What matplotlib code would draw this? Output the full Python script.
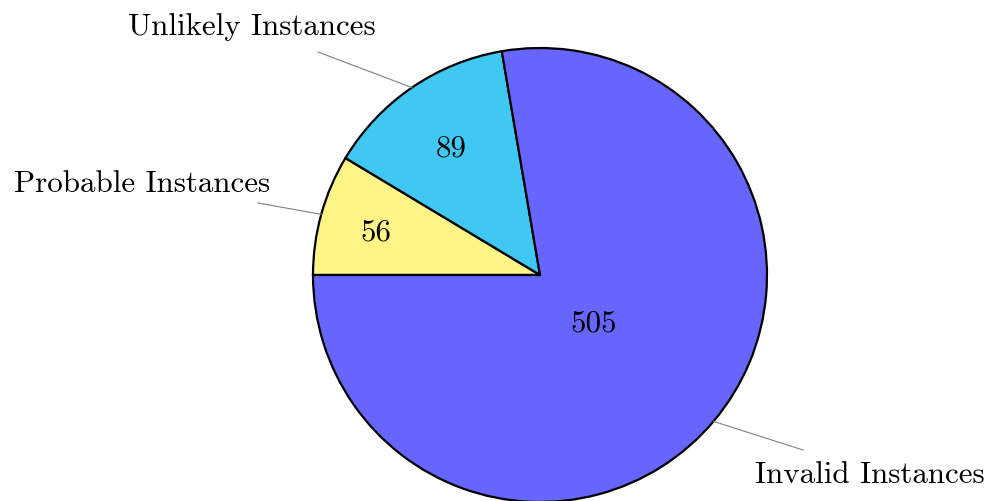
import numpy as np
import matplotlib.pyplot as plt

plt.rcParams['font.family'] = ['cmr10', 'DejaVu Serif']
plt.rcParams['mathtext.fontset'] = 'cm'
plt.rcParams['axes.formatter.use_mathtext'] = True

labels = ['Probable Instances', 'Unlikely Instances', 'Invalid Instances']
counts = [56, 89, 505]
colors = ['#FFF587', '#40C8F2', '#6666FF']

# number placement (fraction of radius) for each slice
num_r = [0.75, 0.69, 0.31]

fig = plt.figure(figsize=(9.88, 5.02), dpi=100)
ax = fig.add_axes([0, 0, 1, 1])

cx, cy, R = 540, 226, 227
wedges, _ = ax.pie(counts, colors=colors, startangle=180, counterclock=False,
                   radius=R, center=(cx, cy), frame=True,
                   wedgeprops=dict(edgecolor='black', linewidth=1.6))
ax.set_xlim(0, 988)
ax.set_ylim(0, 502)
ax.set_aspect('equal')
ax.axis('off')

for w, n, fr in zip(wedges, counts, num_r):
    mid = np.deg2rad((w.theta1 + w.theta2) / 2)
    ax.text(cx + fr * R * np.cos(mid), cy + fr * R * np.sin(mid) - 2, str(n),
            ha='center', va='center', fontsize=22.3)

# outside labels with pins
pin_end = [(258, 298), (318, 449), (803, 51)]
text_pos = [(270, 318), (376, 475), (755, 27)]
aligns = ['right', 'right', 'left']
for w, lab, (px, py), (tx, ty), al in zip(wedges, labels, pin_end, text_pos, aligns):
    mid = np.deg2rad((w.theta1 + w.theta2) / 2)
    x0, y0 = cx + R * np.cos(mid), cy + R * np.sin(mid)
    ax.plot([x0, px], [y0, py], color='gray', lw=0.8)
    ax.text(tx, ty, lab, ha=al, va='center', fontsize=22.3)

fig.savefig('out.png', dpi=100)
